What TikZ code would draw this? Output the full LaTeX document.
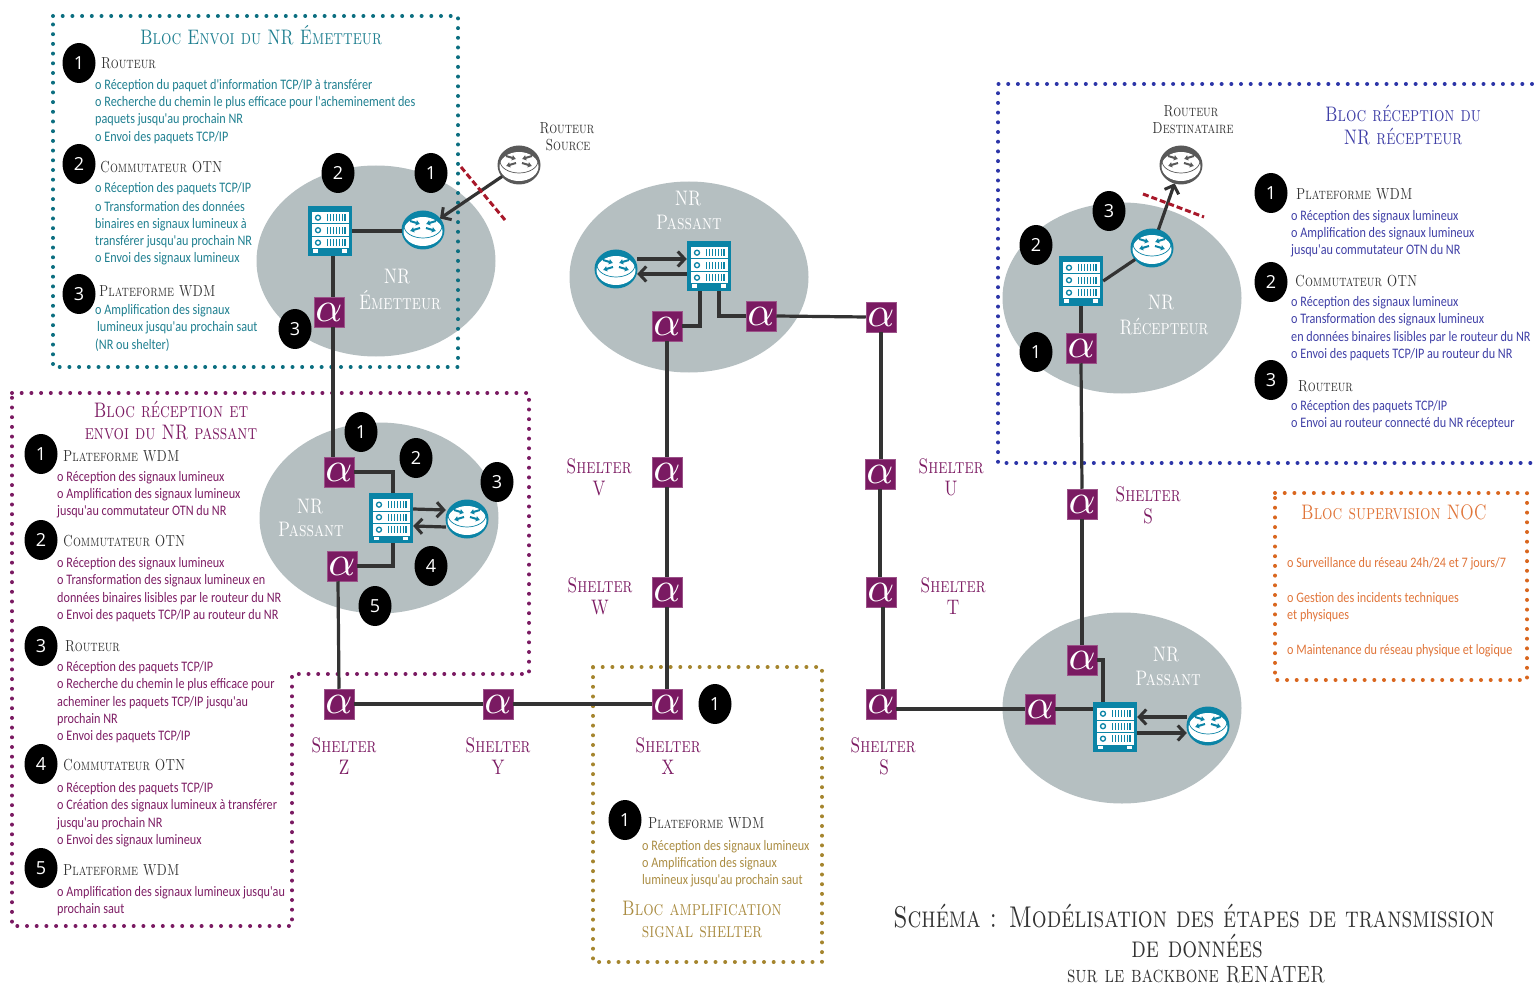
\documentclass[tikz,border=0pt]{standalone}
\usepackage{fontspec}
\usetikzlibrary{shapes.geometric,arrows.meta,calc}
\newfontfamily\bodyf[FakeStretch=.84]{Carlito}
\newfontfamily\capsf[FakeStretch=.78]{Latin Modern Roman Caps}
\newfontfamily\digf{Open Sans}
\definecolor{cteal}{HTML}{1F7F90}
\definecolor{dteal}{HTML}{0B6E80}
\definecolor{cpurp}{HTML}{7D1D64}
\definecolor{dpurp}{HTML}{7A1A62}
\definecolor{cblue}{HTML}{3F3FA6}
\definecolor{dblue}{HTML}{2C35A8}
\definecolor{corange}{HTML}{E0753A}
\definecolor{dorange}{HTML}{D9661E}
\definecolor{cgold}{HTML}{AA8C42}
\definecolor{dgold}{HTML}{A5852E}
\definecolor{srv}{HTML}{0B84A6}
\definecolor{nrgrey}{HTML}{B5BFC1}
\definecolor{alph}{HTML}{7A1A62}
\definecolor{lnk}{HTML}{333333}
\definecolor{redd}{HTML}{A8182A}
\definecolor{ink}{HTML}{333333}
\tikzset{
  nr/.style={ellipse,fill=nrgrey,minimum width=239pt,minimum height=191pt,inner sep=0pt},
  dots/.style={line width=4pt,line cap=round,dash pattern=on 0pt off 9.7pt,#1},
  link/.style={draw=lnk,line width=3.2pt},
  arr/.style={link,-{Straight Barb[length=7pt,width=15pt,line width=3pt]}},
  redline/.style={draw=redd,line width=3pt,dash pattern=on 6pt off 3pt},
  alphabox/.style={rectangle,fill=alph,draw=alph!75!white,line width=.5pt,minimum width=30pt,minimum height=30pt,inner sep=0pt,text=white},
  badgenode/.style={ellipse,fill=black,text=white,minimum width=33pt,minimum height=40pt,inner sep=0pt,font=\digf\fontsize{18}{18}\selectfont},
  bodytxt/.style={anchor=west,inner sep=0pt,yshift=-1pt,font=\bodyf\fontsize{14.5}{14.5}\selectfont},
  headtxt/.style={anchor=west,inner sep=0pt,text=ink,font=\capsf\fontsize{16}{16}\selectfont},
  centhead/.style={inner sep=0pt,text=ink,font=\capsf\fontsize{16}{16}\selectfont},
  ttltxt/.style={inner sep=0pt,yshift=1.5pt,font=\capsf\fontsize{21}{21}\selectfont},
  nrlabel/.style={inner sep=0pt,yshift=.5pt,text=white,font=\capsf\fontsize{21}{21}\selectfont},
  bigttl/.style={inner sep=0pt,text=ink,font=\capsf\fontsize{30}{30}\selectfont},
  routerbox/.style={ellipse,minimum width=42pt,minimum height=38pt,inner sep=0pt},
  serverbox/.style={rectangle,minimum width=44pt,minimum height=50pt,inner sep=0pt},
  pics/routerglyph/.style={code={
    \fill[#1] (0,0) ellipse [x radius=21.5,y radius=19.5];
    \fill[white] (0,1.5) ellipse [x radius=19.5,y radius=14.5];
    \draw[#1,line width=.7pt] (-19,-4) arc [start angle=180,end angle=0,x radius=19,y radius=12];
    \foreach \a/\b/\c/\d in {-13/-9/-3/-6, 13/-9/3/-6, -3/-2/-13/1, 3/-2/13/1}
      \draw[#1,line width=2pt,-{Latex[length=4pt,width=6pt]}] (\a,\b) -- (\c,\d);
  }},
  pics/serverglyph/.style={code={
    \fill[srv] (-22,-25) rectangle (22,25);
    \foreach \y in {-19,-6.5,6} {
      \fill[white] (-18.5,\y) rectangle (18.5,\y+11.5);
      \draw[srv,line width=1.3pt] (-12,\y+5.7) circle [radius=2.5];
      \foreach \k in {0,...,6} \fill[srv] (-3+\k*2.9,\y+2.2) rectangle (-1.8+\k*2.9,\y+9.3);
    }
    \fill[white] (-17,18.5) rectangle (-12,22);
    \fill[white] (12,18.5) rectangle (17,22);
  }}
}
\newcounter{tn}
\newcommand\tcol{cteal}
\newcommand\tline[3]{\stepcounter{tn}\node[bodytxt,text=\tcol] (t\arabic{tn}) at (#1,#2) {#3};}
\newcommand\head[3]{\stepcounter{tn}\node[headtxt] (t\arabic{tn}) at (#1,#2) {#3};}
\newcommand\chead[3]{\stepcounter{tn}\node[centhead] (t\arabic{tn}) at (#1,#2) {#3};}
\newcommand\ttl[3]{\stepcounter{tn}\node[ttltxt,text=\tcol] (t\arabic{tn}) at (#1,#2) {#3};}
\newcommand\nrl[3]{\stepcounter{tn}\node[nrlabel] (t\arabic{tn}) at (#1,#2) {#3};}
\newcommand\badge[3]{\stepcounter{tn}\node[badgenode] (b\arabic{tn}) at (#1,#2) {#3};}
\newcommand\alphanode[3]{\node[alphabox] (#1) at (#2,#3) {\scalebox{4.2}[4.2]{$\alpha$}};}
\newcommand\routernode[4]{\node[routerbox] (#1) at (#2,#3) {}; \pic at (#2,#3) {routerglyph=#4};}
\newcommand\servernode[3]{\node[serverbox] (#1) at (#2,#3) {}; \pic at (#2,#3) {serverglyph};}
\newcommand\shelter[4]{\ttl{#1}{#2}{Shelter}\ttl{#3}{#2+22}{#4}}
\begin{document}
\begin{tikzpicture}[x=1pt,y=-1pt]
\useasboundingbox (0,0) rectangle (1534,984);
% NR clouds
\node[nr] (nrE) at (376,261) {};
\node[nr] (nrP) at (379,518) {};
\node[nr] (nrT) at (689,277) {};
\node[nr] (nrR) at (1122,298) {};
\node[nr] (nrB) at (1122,708) {};
% dotted blocks
\draw[dots=dteal] (53,16) -- (458,16) -- (458,367) -- (53,367) -- cycle;
\draw[dots=dpurp] (12,393) -- (529,393) -- (529,674) -- (292,674) -- (292,926) -- (12,926) -- cycle;
\draw[dots=dgold] (593,667) -- (822,667) -- (822,962) -- (593,962) -- cycle;
\draw[dots=dblue] (1532,84) -- (998,84) -- (998,463) -- (1532,463);
\draw[dots=dorange] (1275,493) -- (1527,493) -- (1527,680) -- (1275,680) -- cycle;
% devices
\servernode{sE}{330}{231}
\routernode{rE}{423}{230}{srv}
\routernode{rS}{519}{165}{black!65}
\alphanode{aE}{329}{312}
\alphanode{aA}{339}{472}
\alphanode{aB}{342}{566}
\servernode{sP}{391}{518}
\routernode{rP}{467}{519}{srv}
\alphanode{aZ}{339}{704}
\alphanode{aY}{498}{704}
\alphanode{aX}{667}{704}
\alphanode{aW}{667}{592}
\alphanode{aV}{667}{472}
\alphanode{aT1}{667}{326}
\alphanode{aT2}{761}{316}
\servernode{sT}{709}{266}
\routernode{rT}{616}{269}{srv}
\alphanode{aF}{881}{317}
\alphanode{aU}{880}{474}
\alphanode{aTT}{881}{592}
\alphanode{aS}{881}{704}
\alphanode{aB1}{1040}{709}
\alphanode{aB2}{1082}{660}
\servernode{sB}{1115}{727}
\routernode{rB}{1208}{726}{srv}
\alphanode{aSS}{1082}{504}
\alphanode{aR}{1081}{348}
\servernode{sR}{1081}{281}
\routernode{rR}{1152}{248}{srv}
\routernode{rD}{1181}{165}{black!65}
\coordinate (redA) at (461,167);
\coordinate (redB) at (505,220);
\coordinate (redC) at (1143,194);
\coordinate (redD) at (1204,217);
% connectors
\draw[link] (sE.east) -- (sE.east -| rE.west);
\draw[arr] (rS) -- (rE);
\draw[redline] (redA) -- (redB);
\draw[link] ([xshift=3pt]sE.south) -- ([xshift=4pt]aE.north);
\draw[link] ([xshift=4pt]aE.south) -- ([xshift=-6pt]aA.north);
\draw[link] (aA.east) -| ([xshift=2pt]sP.north);
\draw[link] ([xshift=2pt]sP.south) |- (aB.east);
\draw[arr] ([yshift=9pt]sP.east) -- ([yshift=9pt]rP.west);
\draw[arr] ([yshift=-8pt]rP.west) -- ([yshift=-8pt]sP.east);
\draw[link] ([xshift=-4pt]aB.south) -- (aZ.north);
\draw[link] (aZ.east) -- (aY.west);
\draw[link] (aY.east) -- (aX.west);
\draw[link] (aX.north) -- (aW.south);
\draw[link] (aW.north) -- (aV.south);
\draw[link] (aV.north) -- (aT1.south);
\draw[link] ([xshift=-9pt]sT.south) |- (aT1.east);
\draw[link] ([xshift=10pt]sT.south) |- (aT2.west);
\draw[arr] ([yshift=10pt]rT.east) -- ([yshift=10pt]rT.east -| sT.west);
\draw[arr] ([yshift=-8pt]sT.west) -- ([yshift=-8pt]sT.west -| rT.east);
\draw[link] (aT2.east) -- (aF.west);
\draw[link] (aF.south) -- (aF.south |- aU.north);
\draw[link] (aU.south) -- (aU.south |- aTT.north);
\draw[link] ([xshift=2pt]aTT.south) -- ([xshift=2pt]aS.north);
\draw[link] ([yshift=-5pt]aS.east) -- (aB1.west);
\draw[link] (aB1.east) -- ([yshift=18pt]sB.west);
\draw[link] (aB2.east) -| ([xshift=-12pt]sB.north);
\draw[arr] ([yshift=9pt]rB.west) -- ([yshift=9pt]rB.west -| sB.east);
\draw[arr] ([yshift=-7pt]rB.west -| sB.east) -- ([yshift=-7pt]rB.west);
\draw[link] (aB2.north) -- (aSS.south);
\draw[link] (aSS.north) -- (aR.south);
\draw[link] (aR.north) -- (sR.south);
\draw[link] (sR.east) -- (rR);
\draw[arr] (rR) -- (rD);
\draw[redline] (redC) -- (redD);
% badges on network
\badge{338}{173}{2}\badge{431}{173}{1}\badge{295}{329}{3}
\badge{361}{432}{1}\badge{416}{458}{2}\badge{497}{482}{3}\badge{431}{566}{4}\badge{375}{606}{5}
\badge{715}{704}{1}
\badge{1109}{211}{3}\badge{1036}{245}{2}\badge{1036}{352}{1}
% NR labels
\nrl{397}{277}{NR}\nrl{400}{301}{Émetteur}
\nrl{310}{507}{NR}\nrl{311}{530}{Passant}
\nrl{688}{199}{NR}\nrl{689}{223}{Passant}
\nrl{1161}{303}{NR}\nrl{1164}{327}{Récepteur}
\nrl{1166}{655}{NR}\nrl{1168}{679}{Passant}
\chead{567}{128}{Routeur}\chead{568}{145}{Source}
\chead{1191}{111}{Routeur}\chead{1193}{128}{Destinataire}
% teal block
\renewcommand\tcol{cteal}
\ttl{261}{37}{Bloc Envoi du NR Émetteur}
\badge{79}{63}{1}\head{101}{63}{Routeur}
\tline{95}{85}{o Réception du paquet d'information TCP/IP à transférer}
\tline{95}{102}{o Recherche du chemin le plus efficace pour l'acheminement des}
\tline{95}{119}{paquets jusqu'au prochain NR}
\tline{95}{137}{o Envoi des paquets TCP/IP}
\badge{79}{164}{2}\head{100}{167}{Commutateur OTN}
\tline{95}{188}{o Réception des paquets TCP/IP}
\tline{95}{206}{o Transformation des données}
\tline{95}{224}{binaires en signaux lumineux à}
\tline{95}{241}{transférer jusqu'au prochain NR}
\tline{95}{258}{o Envoi des signaux lumineux}
\badge{79}{294}{3}\head{99}{291}{Plateforme WDM}
\tline{95}{310}{o Amplification des signaux}
\tline{97}{327}{lumineux jusqu'au prochain saut}
\tline{95}{344}{(NR ou shelter)}
% purple block
\renewcommand\tcol{cpurp}
\ttl{171}{411}{Bloc réception et}\ttl{171}{434}{envoi du NR passant}
\badge{41}{454}{1}\head{63}{456}{Plateforme WDM}
\tline{57}{477}{o Réception des signaux lumineux}
\tline{57}{494}{o Amplification des signaux lumineux}
\tline{57}{511}{jusqu'au commutateur OTN du NR}
\badge{41}{540}{2}\head{63}{541}{Commutateur OTN}
\tline{57}{563}{o Réception des signaux lumineux}
\tline{57}{580}{o Transformation des signaux lumineux en}
\tline{57}{598}{données binaires lisibles par le routeur du NR}
\tline{57}{615}{o Envoi des paquets TCP/IP au routeur du NR}
\badge{41}{646}{3}\head{65}{646}{Routeur}
\tline{57}{667}{o Réception des paquets TCP/IP}
\tline{57}{684}{o Recherche du chemin le plus efficace pour}
\tline{57}{702}{acheminer les paquets TCP/IP jusqu'au}
\tline{57}{719}{prochain NR}
\tline{57}{736}{o Envoi des paquets TCP/IP}
\badge{41}{764}{4}\head{63}{765}{Commutateur OTN}
\tline{57}{788}{o Réception des paquets TCP/IP}
\tline{57}{805}{o Création des signaux lumineux à transférer}
\tline{57}{823}{jusqu'au prochain NR}
\tline{57}{840}{o Envoi des signaux lumineux}
\badge{41}{868}{5}\head{63}{870}{Plateforme WDM}
\tline{57}{892}{o Amplification des signaux lumineux jusqu'au}
\tline{57}{909}{prochain saut}
% shelters
\shelter{599}{468}{599}{V}
\shelter{600}{587}{600}{W}
\shelter{951}{468}{951}{U}
\shelter{953}{587}{953}{T}
\shelter{1148}{496}{1148}{S}
\shelter{344}{747}{344}{Z}
\shelter{498}{747}{498}{Y}
\shelter{668}{747}{668}{X}
\shelter{883}{747}{884}{S}
% blue block
\renewcommand\tcol{cblue}
\ttl{1403}{115}{Bloc réception du}\ttl{1403}{138}{NR récepteur}
\badge{1271}{193}{1}\head{1296}{194}{Plateforme WDM}
\tline{1291}{216}{o Réception des signaux lumineux}
\tline{1291}{233}{o Amplification des signaux lumineux}
\tline{1291}{250}{jusqu'au commutateur OTN du NR}
\badge{1271}{282}{2}\head{1295}{281}{Commutateur OTN}
\tline{1291}{302}{o Réception des signaux lumineux}
\tline{1291}{319}{o Transformation des signaux lumineux}
\tline{1291}{337}{en données binaires lisibles par le routeur du NR}
\tline{1291}{354}{o Envoi des paquets TCP/IP au routeur du NR}
\badge{1271}{380}{3}\head{1298}{386}{Routeur}
\tline{1291}{406}{o Réception des paquets TCP/IP}
\tline{1291}{423}{o Envoi au routeur connecté du NR récepteur}
% orange block
\renewcommand\tcol{corange}
\ttl{1394}{514}{Bloc supervision NOC}
\tline{1287}{563}{o Surveillance du réseau 24h/24 et 7 jours/7}
\tline{1287}{598}{o Gestion des incidents techniques}
\tline{1287}{615}{et physiques}
\tline{1287}{650}{o Maintenance du réseau physique et logique}
% gold block
\renewcommand\tcol{cgold}
\badge{625}{820}{1}\head{648}{823}{Plateforme WDM}
\tline{642}{846}{o Réception des signaux lumineux}
\tline{642}{863}{o Amplification des signaux}
\tline{642}{880}{lumineux jusqu'au prochain saut}
\ttl{702}{910}{Bloc amplification}\ttl{702}{934}{signal shelter}
% main title
\node[bigttl] (title1) at (1194,916) {Schéma : Modélisation des étapes de transmission};
\node[bigttl] (title2) at (1197,946) {de données};
\node[bigttl,font=\capsf\fontsize{23.5}{23.5}\selectfont] (title3) at (1196,974) {sur le backbone RENATER};
\end{tikzpicture}
\end{document}
